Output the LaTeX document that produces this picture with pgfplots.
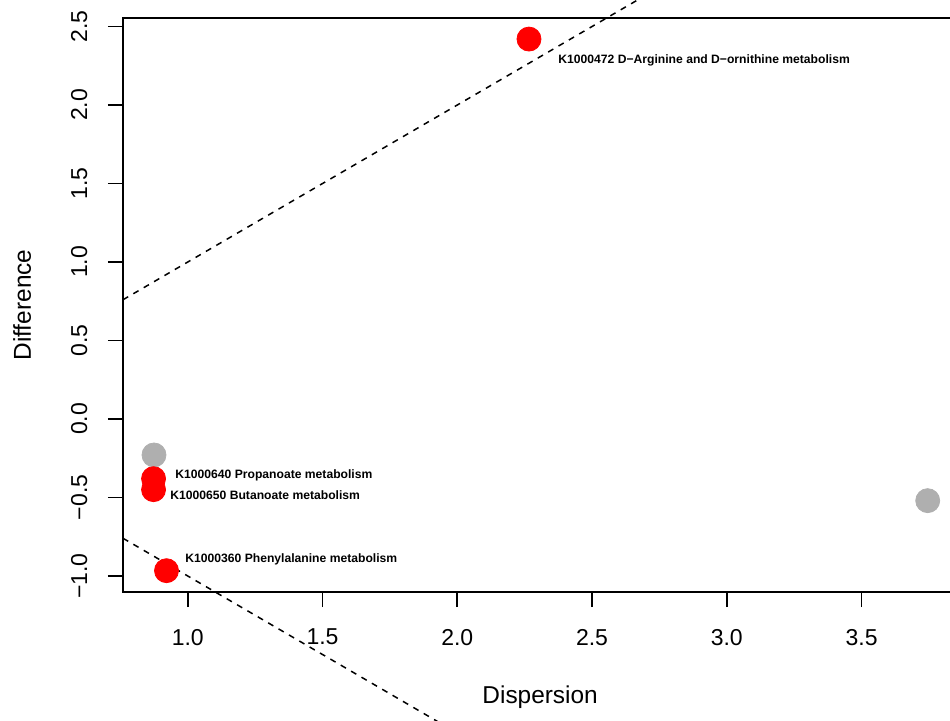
\documentclass[border=0pt]{standalone}
\usepackage{fontspec}
\setmainfont{Liberation Sans}
\usepackage{pgfplots}
\pgfplotsset{compat=1.18}
\definecolor{ptgray}{RGB}{175,175,175}
\begin{document}
\begin{tikzpicture}
\begin{axis}[
  x=134.75pt, y=78.5pt,
  xmin=0.7596, xmax=3.855, ymin=-1.102, ymax=2.554,
  clip=false,
  axis line style={line width=0.9pt, black},
  tick style={line width=0.9pt, black},
  tick align=outside, major tick length=7.5pt,
  xtick pos=bottom, ytick pos=left,
  xtick={1,1.5,2,2.5,3,3.5},
  xticklabels={1.0,1.5,2.0,2.5,3.0,3.5},
  ytick={-1,-0.5,0,0.5,1,1.5,2,2.5},
  yticklabels={−1.0,−0.5,0.0,0.5,1.0,1.5,2.0,2.5},
  ticklabel style={font=\fontsize{11.5}{13}\selectfont},
  xticklabel style={anchor=north, yshift=-7.5pt},
  yticklabel style={xshift=-6.8pt, rotate=90, anchor=south},
  xlabel={Dispersion}, ylabel={Difference},
  label style={font=\fontsize{12.2}{14}\selectfont},
  xlabel style={at={(axis description cs:0.5,-0.184)}, anchor=center},
  ylabel style={at={(axis description cs:-0.121,0.5)}, anchor=center, rotate=0},
]
% reference lines y = x and y = -x
\addplot[black, line width=0.75pt, dash pattern=on 3pt off 3pt] coordinates {(0.7596,0.7596) (3.855,3.855)};
\addplot[black, line width=0.75pt, dash pattern=on 3pt off 3pt] coordinates {(0.7596,-0.7596) (3.855,-3.855)};
% non-significant
\addplot[only marks, mark=*, mark size=6pt, draw=ptgray, fill=ptgray] coordinates {(0.8746,-0.229) (3.7455,-0.520)};
% significant
\addplot[only marks, mark=*, mark size=6pt, draw=red, fill=red] coordinates {(2.266,2.420) (0.873,-0.380) (0.873,-0.450) (0.921,-0.966)};
\begin{scope}[every node/.style={anchor=west, inner sep=0pt, font=\bfseries\fontsize{6.07}{7}\selectfont}]
\node at (axis cs:2.3737,2.2866) {K1000472 D−Arginine and D−ornithine metabolism};
\node at (axis cs:0.9525,-0.3567) {K1000640 Propanoate metabolism};
\node at (axis cs:0.934,-0.484) {K1000650 Butanoate metabolism};
\node at (axis cs:0.9896,-0.8917) {K1000360 Phenylalanine metabolism};
\end{scope}
\coordinate (bbll) at (axis cs:0.3032,-1.9172);
\coordinate (bbur) at (axis cs:3.8282,2.6688);
\end{axis}
\pgfresetboundingbox
\path[use as bounding box] (bbll) rectangle (bbur);
\end{tikzpicture}
\end{document}
